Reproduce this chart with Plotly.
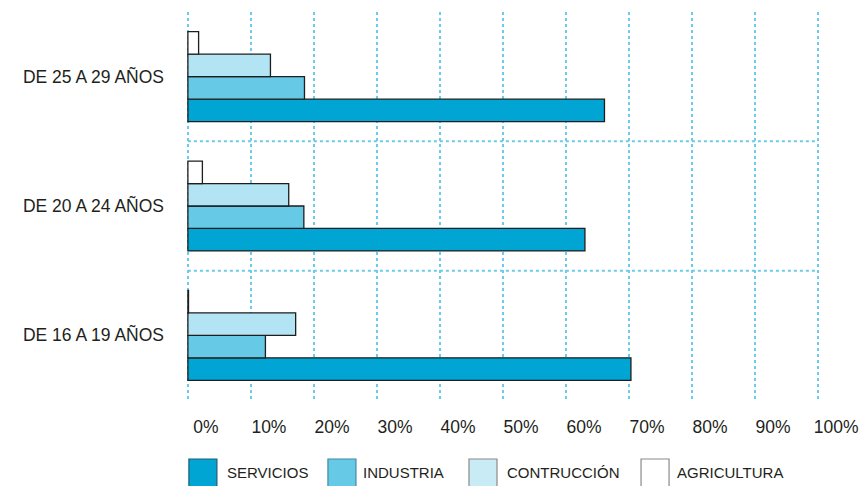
import plotly.graph_objects as go

# ---- data ----
categories = ["DE 16 A 19 AÑOS", "DE 20 A 24 AÑOS", "DE 25 A 29 AÑOS"]
series_names = ["SERVICIOS", "INDUSTRIA", "CONTRUCCIÓN", "AGRICULTURA"]
servicios = [70.3, 63.0, 66.1]
industria = [12.3, 18.4, 18.5]
construccion = [17.1, 16.0, 13.1]
agricultura = [0.1, 2.3, 1.7]
tick_values = [0, 10, 20, 30, 40, 50, 60, 70, 80, 90, 100]
tick_labels = ["0%", "10%", "20%", "30%", "40%", "50%", "60%", "70%", "80%", "90%", "100%"]

colors = ["#00a5d4", "#66cae7", "#b3e4f3", "#ffffff"]
legend_colors = ["#00a5d4", "#66cae7", "#c9ebf6", "#ffffff"]
legend_borders = ["#1b5f78", "#3f8aa3", "#8a8a8a", "#8a8a8a"]
series_values = [servicios, industria, construccion, agricultura]

FONT = "Liberation Sans, Arial, Helvetica, sans-serif"
TXT = "#231f20"
GRID = "#6ccbe8"

# page body has an 8px margin: work in figure pixels = screen pixels - 8
OFF = 8
W, H = 868 - OFF, 486 - OFF
L_PX, R_PX, T_PX, B_PX = 188 - OFF, 818 - OFF, 12 - OFF, 400 - OFF
pad = 0.3
plot_w = (R_PX - L_PX) * (100 + 2 * pad) / 100
ml = L_PX - pad * (R_PX - L_PX) / 100
mr = W - ml - plot_w

fig = go.Figure()
for name, vals, col in zip(series_names, series_values, colors):
    fig.add_trace(go.Bar(
        y=categories, x=vals, name=name, orientation="h",
        marker=dict(color=col, line=dict(color="#1e1e1e", width=1.3)),
        showlegend=False,
    ))

def px_to_paper_x(px):
    return (px - OFF - ml) / plot_w

def px_to_paper_y(py):
    return (B_PX - (py - OFF)) / (B_PX - T_PX)

shapes = []
annotations = []
# horizontal dotted separators between age groups
for yb in [0.5, 1.5]:
    shapes.append(dict(type="line", xref="x", yref="y", x0=0, x1=100, y0=yb, y1=yb,
                       line=dict(color=GRID, width=2, dash="dot"), layer="below"))

# custom legend (screen pixel positions)
box_left = [189, 328, 469, 641]
text_left = [225, 361, 505, 675]
for i, name in enumerate(series_names):
    shapes.append(dict(type="rect", xref="paper", yref="paper",
                       x0=px_to_paper_x(box_left[i]), x1=px_to_paper_x(box_left[i] + 28),
                       y0=px_to_paper_y(459), y1=px_to_paper_y(487),
                       fillcolor=legend_colors[i], line=dict(color=legend_borders[i], width=1.2)))
    annotations.append(dict(xref="paper", yref="paper", x=px_to_paper_x(text_left[i]),
                            y=px_to_paper_y(472), text=name, showarrow=False,
                            xanchor="left", yanchor="middle",
                            font=dict(family=FONT, size=15, color=TXT)))

fig.update_layout(
    width=W, height=H,
    margin=dict(l=ml, r=mr, t=T_PX, b=H - B_PX, pad=0),
    barmode="group", bargap=0.305, bargroupgap=0,
    plot_bgcolor="white", paper_bgcolor="white",
    font=dict(family=FONT, size=17.5, color=TXT),
    shapes=shapes, annotations=annotations,
    xaxis=dict(range=[-pad, 100 + pad], tickvals=tick_values, ticktext=tick_labels,
               showgrid=True, gridcolor=GRID, gridwidth=2, griddash="dot",
               zeroline=False, showline=False, ticks="",
               ticklabelshift=18, ticklabelstandoff=14,
               tickfont=dict(family=FONT, size=17.5, color=TXT)),
    yaxis=dict(range=[-0.5, 2.5], showgrid=False, zeroline=False, showline=False,
               ticks="", ticklabelstandoff=21,
               tickfont=dict(family=FONT, size=17.5, color=TXT)),
)

fig.write_html("out.html")
